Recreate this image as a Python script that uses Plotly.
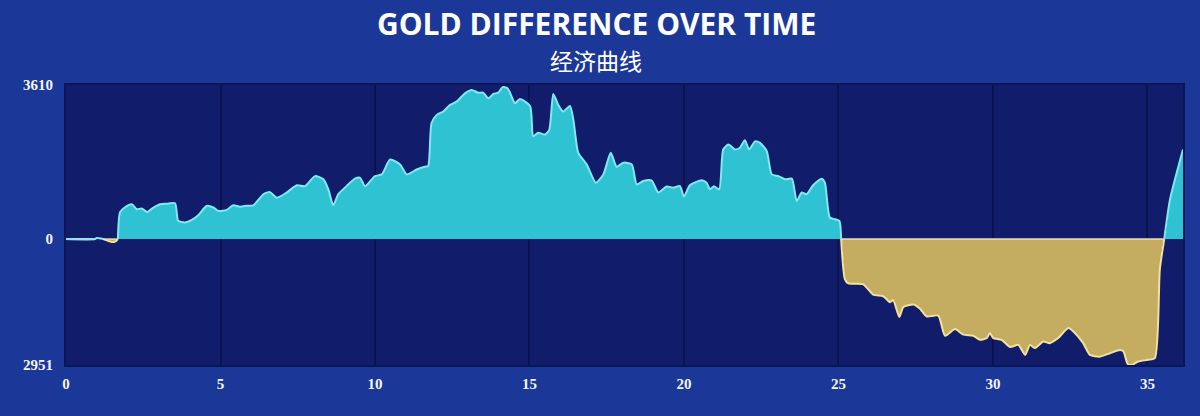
import numpy as np
import plotly.graph_objects as go

# Game time (minutes) and gold difference (blue side minus red side)
TIME = [0.00, 0.94, 0.99, 1.20, 1.30, 1.48, 1.59, 1.68, 1.75, 1.91, 2.13, 2.29, 2.45, 2.63, 2.83,
        3.04, 3.26, 3.53, 3.63, 3.85, 4.07, 4.28, 4.55, 4.77, 4.93, 5.20, 5.41, 5.63, 5.85,
        6.06, 6.39, 6.60, 6.82, 7.14, 7.47, 7.73, 8.06, 8.33, 8.49, 8.65, 8.81, 9.08, 9.35,
        9.51, 9.68, 10.00, 10.22, 10.49, 10.81, 11.03, 11.35, 11.62, 11.72, 11.83, 12.00,
        12.21, 12.43, 12.64, 12.91, 13.13, 13.34, 13.50, 13.67, 13.83, 13.99, 14.13, 14.28,
        14.37, 14.53, 14.69, 15.02, 15.12, 15.28, 15.50, 15.64, 15.77, 15.93, 16.09, 16.31,
        16.42, 16.58, 16.85, 17.15, 17.39, 17.63, 17.82, 18.04, 18.31, 18.47, 18.68, 18.95,
        19.17, 19.44, 19.65, 19.87, 20.00, 20.19, 20.57, 20.73, 20.84, 20.97, 21.14, 21.27,
        21.44, 21.65, 21.81, 21.97, 22.11, 22.30, 22.46, 22.68, 22.84, 23.06, 23.27, 23.49,
        23.65, 23.81, 23.97, 24.18, 24.46, 24.56, 24.72, 24.89, 25.03, 25.21, 25.32, 25.80,
        26.12, 26.45, 26.67, 26.77, 26.97, 27.10, 27.43, 27.64, 27.85, 28.23, 28.45, 28.77,
        29.04, 29.36, 29.58, 29.80, 29.90, 30.01, 30.28, 30.55, 30.82, 31.04, 31.20, 31.36,
        31.63, 31.84, 32.11, 32.44, 32.65, 32.92, 33.14, 33.46, 33.79, 34.11, 34.22, 34.36,
        34.49, 34.70, 35.02, 35.24, 35.40, 35.73, 36.15]
GOLD = [0, 0, 25, 0, -25, -70, -60, 0, 630, 745, 815, 700, 715, 636, 738,
        815, 830, 840, 430, 390, 450, 560, 775, 740, 660, 683, 790, 760, 780,
        790, 1050, 1100, 970, 1090, 1260, 1240, 1475, 1400, 1165, 790, 1050, 1240, 1415,
        1440, 1240, 1475, 1515, 1865, 1750, 1515, 1630, 1695, 1710, 2720, 2910,
        2990, 3145, 3220, 3415, 3495, 3430, 3430, 3300, 3400, 3430, 3560, 3540,
        3430, 3185, 3280, 3120, 2410, 2490, 2450, 2560, 3400, 3145, 2990, 3120,
        2800, 2020, 1750, 1320, 1515, 2020, 1695, 1790, 1750, 1280, 1360, 1375,
        1090, 1230, 1205, 1240, 995, 1260, 1380, 1320, 1165, 1240, 1165, 2100,
        2215, 2100, 2140, 2315, 2100, 2290, 2255, 2060, 1515, 1475, 1400, 1415,
        890, 1090, 1050, 1260, 1415, 1320, 505, 465, 425, -945, -1040, -1060,
        -1300, -1340, -1480, -1430, -1825, -1590, -1535, -1635, -1810, -1795, -2265, -2110,
        -2240, -2265, -2360, -2320, -2200, -2320, -2360, -2530, -2480, -2715, -2480, -2555,
        -2400, -2440, -2320, -2085, -2200, -2440, -2715, -2755, -2675, -2600, -2630, -2925,
        -2950, -2870, -2830, -2790, -710, 930, 2100]

X_TICKS = [0, 5, 10, 15, 20, 25, 30, 35]
Y_TICKVALS = [3610, 0, -2951]
Y_TICKTEXT = ["3610", "0", "2951"]
TITLE = "GOLD DIFFERENCE OVER TIME"
SUBTITLE = "经济曲线"

# insert zero crossings so the two colours meet cleanly
t = np.array(TIME, dtype=float)
g = np.array(GOLD, dtype=float)
tt, gg = [t[0]], [g[0]]
for i in range(1, len(t)):
    if g[i - 1] * g[i] < 0:
        tc = t[i - 1] + (t[i] - t[i - 1]) * g[i - 1] / (g[i - 1] - g[i])
        tt.append(tc)
        gg.append(0.0)
    tt.append(t[i])
    gg.append(g[i])
tt = np.array(tt)
gg = np.array(gg)
pos = np.where(gg >= 0, gg, 0)
neg = np.where(gg <= 0, gg, 0)
pos_line = np.where(gg >= 0, gg, np.nan)
neg_line = np.where(gg <= 0, gg, np.nan)
neg_edge = np.where(gg <= 0, 0, np.nan)

CYAN_FILL = "#2fc2d3"
CYAN_LINE = "#86e6f3"
GOLD_FILL = "#c4ad60"
GOLD_LINE = "#f2e29a"
SPL = dict(shape="spline", smoothing=0.6)

fig = go.Figure()
fig.add_trace(go.Scatter(x=tt, y=neg, mode="lines", line=dict(width=0, **SPL),
                         fill="tozeroy", fillcolor=GOLD_FILL, hoverinfo="skip", showlegend=False))
fig.add_trace(go.Scatter(x=tt, y=pos, mode="lines", line=dict(width=0, **SPL),
                         fill="tozeroy", fillcolor=CYAN_FILL, hoverinfo="skip", showlegend=False))
fig.add_trace(go.Scatter(x=tt, y=neg_edge, mode="lines",
                         line=dict(width=1.5, color="#e6e2bf"), hoverinfo="skip", showlegend=False))
fig.add_trace(go.Scatter(x=tt, y=neg_line, mode="lines",
                         line=dict(width=2, color=GOLD_LINE, **SPL), showlegend=False))
fig.add_trace(go.Scatter(x=tt, y=pos_line, mode="lines",
                         line=dict(width=2, color=CYAN_LINE, **SPL), showlegend=False))

tick_font = dict(family="Liberation Serif", size=15, color="#f4f6ff", weight="bold")

fig.update_layout(
    width=1200, height=416,
    margin=dict(l=66, r=17, t=85, b=51),
    paper_bgcolor="#1b3797",
    plot_bgcolor="#111c6b",
    showlegend=False,
    xaxis=dict(range=[0, 36.15], tickvals=X_TICKS, ticktext=[str(v) for v in X_TICKS],
               showgrid=True, gridcolor="#0a134f", gridwidth=1.5,
               zeroline=False, showline=True, linecolor="#0c1657", linewidth=2, mirror=True,
               tickfont=tick_font, ticks="", ticklabelstandoff=4),
    yaxis=dict(range=[-2951, 3610], tickvals=Y_TICKVALS, ticktext=Y_TICKTEXT,
               showgrid=False, zeroline=False, showline=True, linecolor="#0c1657",
               linewidth=2, mirror=True, tickfont=tick_font, ticks="", ticklabelstandoff=8),
    annotations=[
        dict(text=TITLE, xref="paper", yref="paper", x=0.4745, y=1.218, showarrow=False,
             xanchor="center", yanchor="middle",
             font=dict(family="Open Sans", size=30, color="#ffffff", weight="bold")),
        dict(text=SUBTITLE, xref="paper", yref="paper", x=0.4745, y=1.089, showarrow=False,
             xanchor="center", yanchor="middle",
             font=dict(family="Noto Sans CJK SC", size=23, color="#ffffff")),
    ],
)

fig.write_html("out.html", config={"displayModeBar": False},
               post_script="document.body.style.margin='0';document.body.style.overflow='hidden';")
